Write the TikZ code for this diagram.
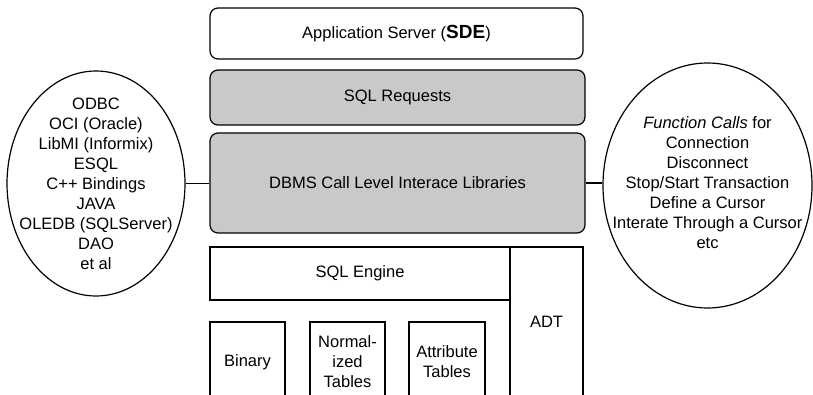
\documentclass[tikz,border=0pt]{standalone}
\usepackage{fontspec}
\setmainfont{Liberation Sans}
\usetikzlibrary{shapes.geometric}
\begin{document}
\begin{tikzpicture}[x=1pt,y=-1pt,line width=1.2pt,
  every node/.style={font=\fontsize{16.5}{20}\selectfont, align=center},
  rbox/.style={draw, rounded corners=8pt, inner sep=0pt},
  shaded/.style={rbox, fill=black!21},
  sbox/.style={draw, inner sep=0pt},
  oval/.style={draw, ellipse, inner sep=0pt}]
\useasboundingbox (0,0) rectangle (813,395);
\clip (0,0) rectangle (813,395);
\node[rbox, minimum width=373pt, minimum height=51pt] (app) at (396.5,33.5) {Application Server ({\fontsize{19}{20}\selectfont\bfseries SDE})};
\node[shaded, minimum width=375pt, minimum height=55pt] (sqlr) at (397.5,97.5) {SQL Requests};
\node[shaded, minimum width=375pt, minimum height=100pt] (dbms) at (397.5,183) {DBMS Call Level Interace Libraries};
\node[sbox, minimum width=300pt, minimum height=53pt] (engine) at (360,273.5) {SQL Engine};
\node[sbox, minimum width=73pt, minimum height=155pt] (adt) at (546.5,324.5) {};
\node (adtt) at (546.5,322) {ADT};
\node[sbox, minimum width=75pt, minimum height=80pt] (binary) at (247.5,362) {Binary};
\node[sbox, minimum width=75pt, minimum height=80pt] (norm) at (347.5,362) {Normal-\\ized\\Tables};
\node[sbox, minimum width=76pt, minimum height=80pt] (attr) at (447,362) {Attribute\\Tables};
\node[oval, minimum width=178pt, minimum height=225pt] (lell) at (96,183.5) {};
\node (ltext) at (96,183.5) {ODBC\\OCI (Oracle)\\LibMI (Informix)\\ESQL\\C++ Bindings\\JAVA\\OLEDB (SQLServer)\\DAO\\et al};
\node[oval, minimum width=209pt, minimum height=245pt] (rell) at (707.5,185.5) {};
\node (rtext) at (707.5,182.5) {\textit{Function Calls} for\\Connection\\Disconnect\\Stop/Start Transaction\\Define a Cursor\\Interate Through a Cursor\\etc};
\draw (lell.east) -- (lell.east -| dbms.west);
\draw (dbms.east) -- (rell.west |- dbms.east);
\end{tikzpicture}
\end{document}
